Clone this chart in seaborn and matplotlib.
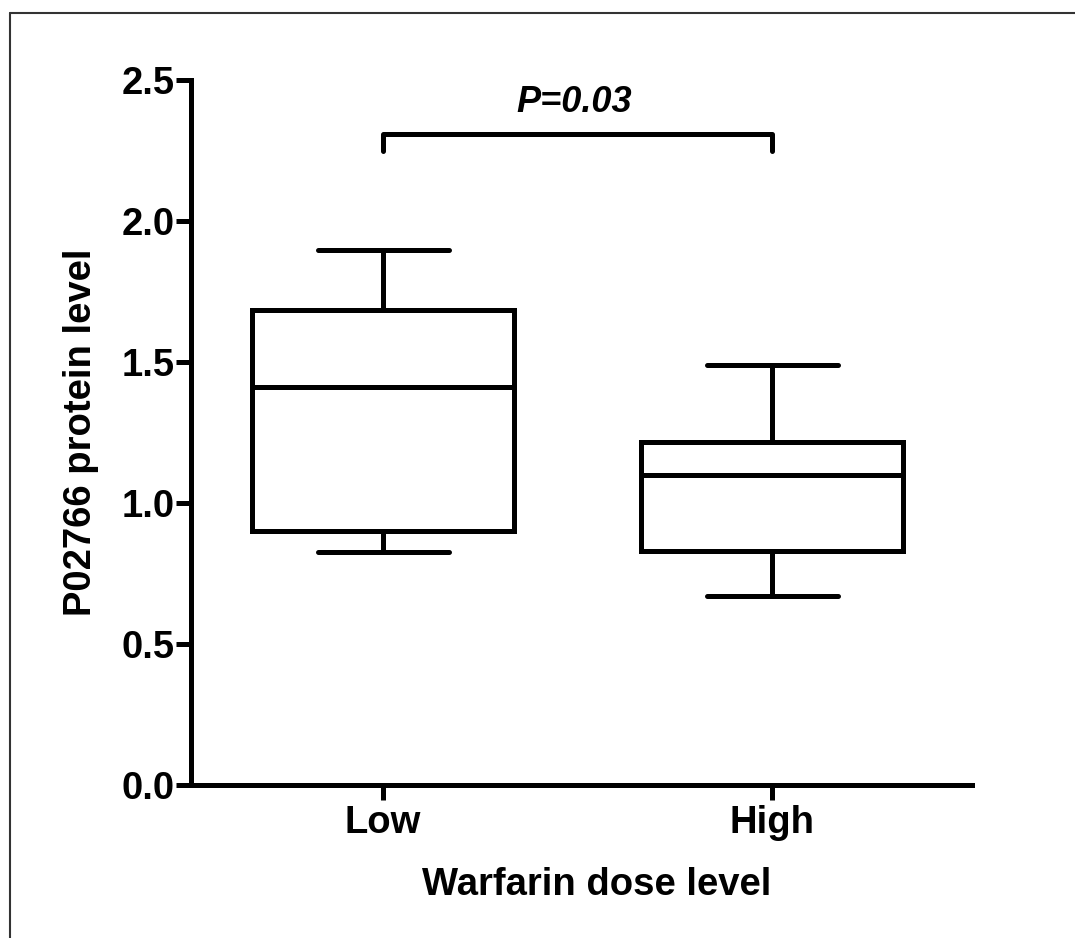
import numpy as np
import pandas as pd
import seaborn as sns
import matplotlib.pyplot as plt
from matplotlib.lines import Line2D

# box summary: lower whisker, Q1, median, Q3, upper whisker
groups = ['Low', 'High']
low_vals = [0.826, 0.900, 1.413, 1.683, 1.897]
high_vals = [0.669, 0.829, 1.100, 1.217, 1.491]
y_ticks = [0.0, 0.5, 1.0, 1.5, 2.0, 2.5]
p_text = 'P=0.03'
bracket_y = 2.31

df = pd.DataFrame({'dose': ['Low'] * len(low_vals) + ['High'] * len(high_vals),
                   'level': low_vals + high_vals})

sns.set_style('ticks')
plt.rcParams['font.family'] = ['Liberation Sans', 'DejaVu Sans']
plt.rcParams['font.weight'] = 'bold'
plt.rcParams['text.color'] = 'black'
plt.rcParams['axes.labelcolor'] = 'black'

lw = 3.6
fs = 27.5
fig = plt.figure(figsize=(10.75, 9.38), dpi=100)
ax = fig.add_axes([0.1777, 0.1631, 0.7265, 0.7516])

# 5 points per group -> percentiles land exactly on Q1/median/Q3, whis=(0,100) gives min/max
sns.boxplot(data=df, x='dose', y='level', order=groups, whis=(0, 100), width=0.673,
            color='white', linecolor='black', linewidth=lw, ax=ax)

ax.set_ylim(0, 2.5)
ax.set_xlim(-0.494, 1.514)
ax.set_yticks(y_ticks)
ax.set_yticklabels(['%.1f' % t for t in y_ticks])
sns.despine(ax=ax)
for s in ['left', 'bottom']:
    ax.spines[s].set_linewidth(lw)
    ax.spines[s].set_color('black')
ax.tick_params(width=lw, length=10.5, labelsize=fs, colors='black')
ax.tick_params(axis='y', pad=1)
ax.tick_params(axis='x', pad=4)

ax.set_xlabel('Warfarin dose level', fontsize=fs, fontweight='bold')
ax.set_ylabel('P02766 protein level', fontsize=fs, fontweight='bold')
ax.xaxis.set_label_coords(0.52, -0.116)
ax.yaxis.set_label_coords(-0.118, 0.5)

# significance bracket
ax.plot([0, 0, 1, 1], [bracket_y - 0.06, bracket_y, bracket_y, bracket_y - 0.06],
        color='black', lw=lw, solid_capstyle='round', clip_on=False)
ax.text(0.49, 2.42, p_text, ha='center', va='center', fontsize=26,
        fontstyle='italic', fontweight='bold')

# thin frame on top and left of the image
fig.add_artist(Line2D([10 / 1075, 10 / 1075], [0, 1 - 13 / 938], color='#333333', lw=1.5))
fig.add_artist(Line2D([10 / 1075, 1], [1 - 13 / 938, 1 - 13 / 938], color='#333333', lw=1.5))

fig.savefig('out.png', dpi=100)
